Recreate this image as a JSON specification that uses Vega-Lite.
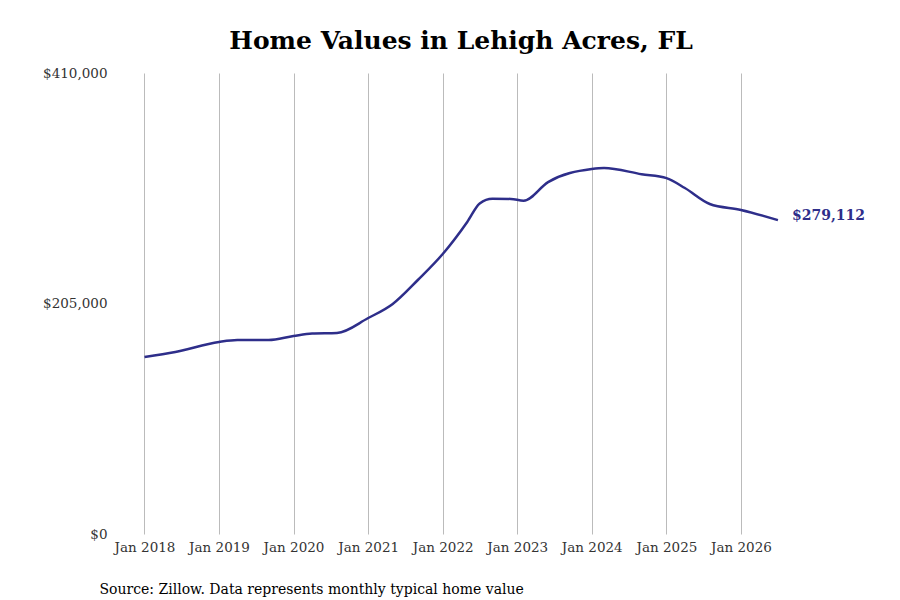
{
"$schema":"https://vega.github.io/schema/vega-lite/v6.json",
"width":760,"height":461,
"autosize":{"type":"none"},
"padding":{"left":110,"top":73,"right":30,"bottom":66},
"background":"white",
"title":{"text":"Home Values in Lehigh Acres, FL","font":"DejaVu Serif","fontSize":25,"fontWeight":"bold","color":"black","anchor":"middle","frame":"group","offset":12,"dx":-29},
"config":{"view":{"stroke":null},"font":"DejaVu Serif"},
"data":{"values":[
{"date":"2018-01-01","v":157400},{"date":"2018-06-01","v":161900},{"date":"2019-01-01","v":170800},{"date":"2019-04-01","v":172500},{"date":"2019-09-01","v":172500},{"date":"2020-01-01","v":176100},{"date":"2020-04-01","v":178300},{"date":"2020-08-01","v":178800},{"date":"2021-01-01","v":192100},{"date":"2021-05-01","v":204600},{"date":"2021-09-01","v":225900},{"date":"2022-01-01","v":249000},{"date":"2022-05-01","v":277500},{"date":"2022-07-01","v":294000},{"date":"2022-09-01","v":298200},{"date":"2022-12-01","v":298000},{"date":"2023-02-01","v":296400},{"date":"2023-06-01","v":313000},{"date":"2024-01-01","v":324600},{"date":"2024-03-01","v":325500},{"date":"2024-09-01","v":320000},{"date":"2025-01-01","v":316500},{"date":"2025-04-01","v":307700},{"date":"2025-08-01","v":293500},{"date":"2026-01-01","v":288200},{"date":"2026-07-01","v":279112}
]},
"encoding":{
"x":{"field":"date","type":"temporal","scale":{"domain":["2017-07-16","2027-09-25"]},
 "axis":{"format":"%b %Y","values":["2018-01-01","2019-01-01","2020-01-01","2021-01-01","2022-01-01","2023-01-01","2024-01-01","2025-01-01","2026-01-01"],"grid":true,"gridColor":"#bbbbbb","domain":false,"ticks":false,"labelFont":"DejaVu Serif","labelFontSize":13.5,"labelColor":"#333","labelPadding":6,
 "title":"Source: Zillow. Data represents monthly typical home value","titleAnchor":"start","titleX":-11,"titleY":48,"titleFont":"DejaVu Serif","titleFontSize":14,"titleFontWeight":"normal","titleColor":"black"}},
"y":{"field":"v","type":"quantitative","scale":{"domain":[0,410000]},
 "axis":{"values":[0,205000,410000],"format":"$,.0f","grid":false,"domain":false,"ticks":false,"labelPadding":3,"labelFont":"DejaVu Serif","labelFontSize":13.5,"labelColor":"#333","title":null}}
},
"layer":[
{"mark":{"type":"line","interpolate":"monotone","color":"#2e2e8a","strokeWidth":2.5}},
{"transform":[{"filter":"datum.v == 279112"}],
 "mark":{"type":"text","align":"left","dx":14,"dy":-4,"fontWeight":"bold","fontSize":14,"color":"#2e2e8a","font":"DejaVu Serif"},
 "encoding":{"text":{"field":"v","format":"$,.0f"}}}
]
}
